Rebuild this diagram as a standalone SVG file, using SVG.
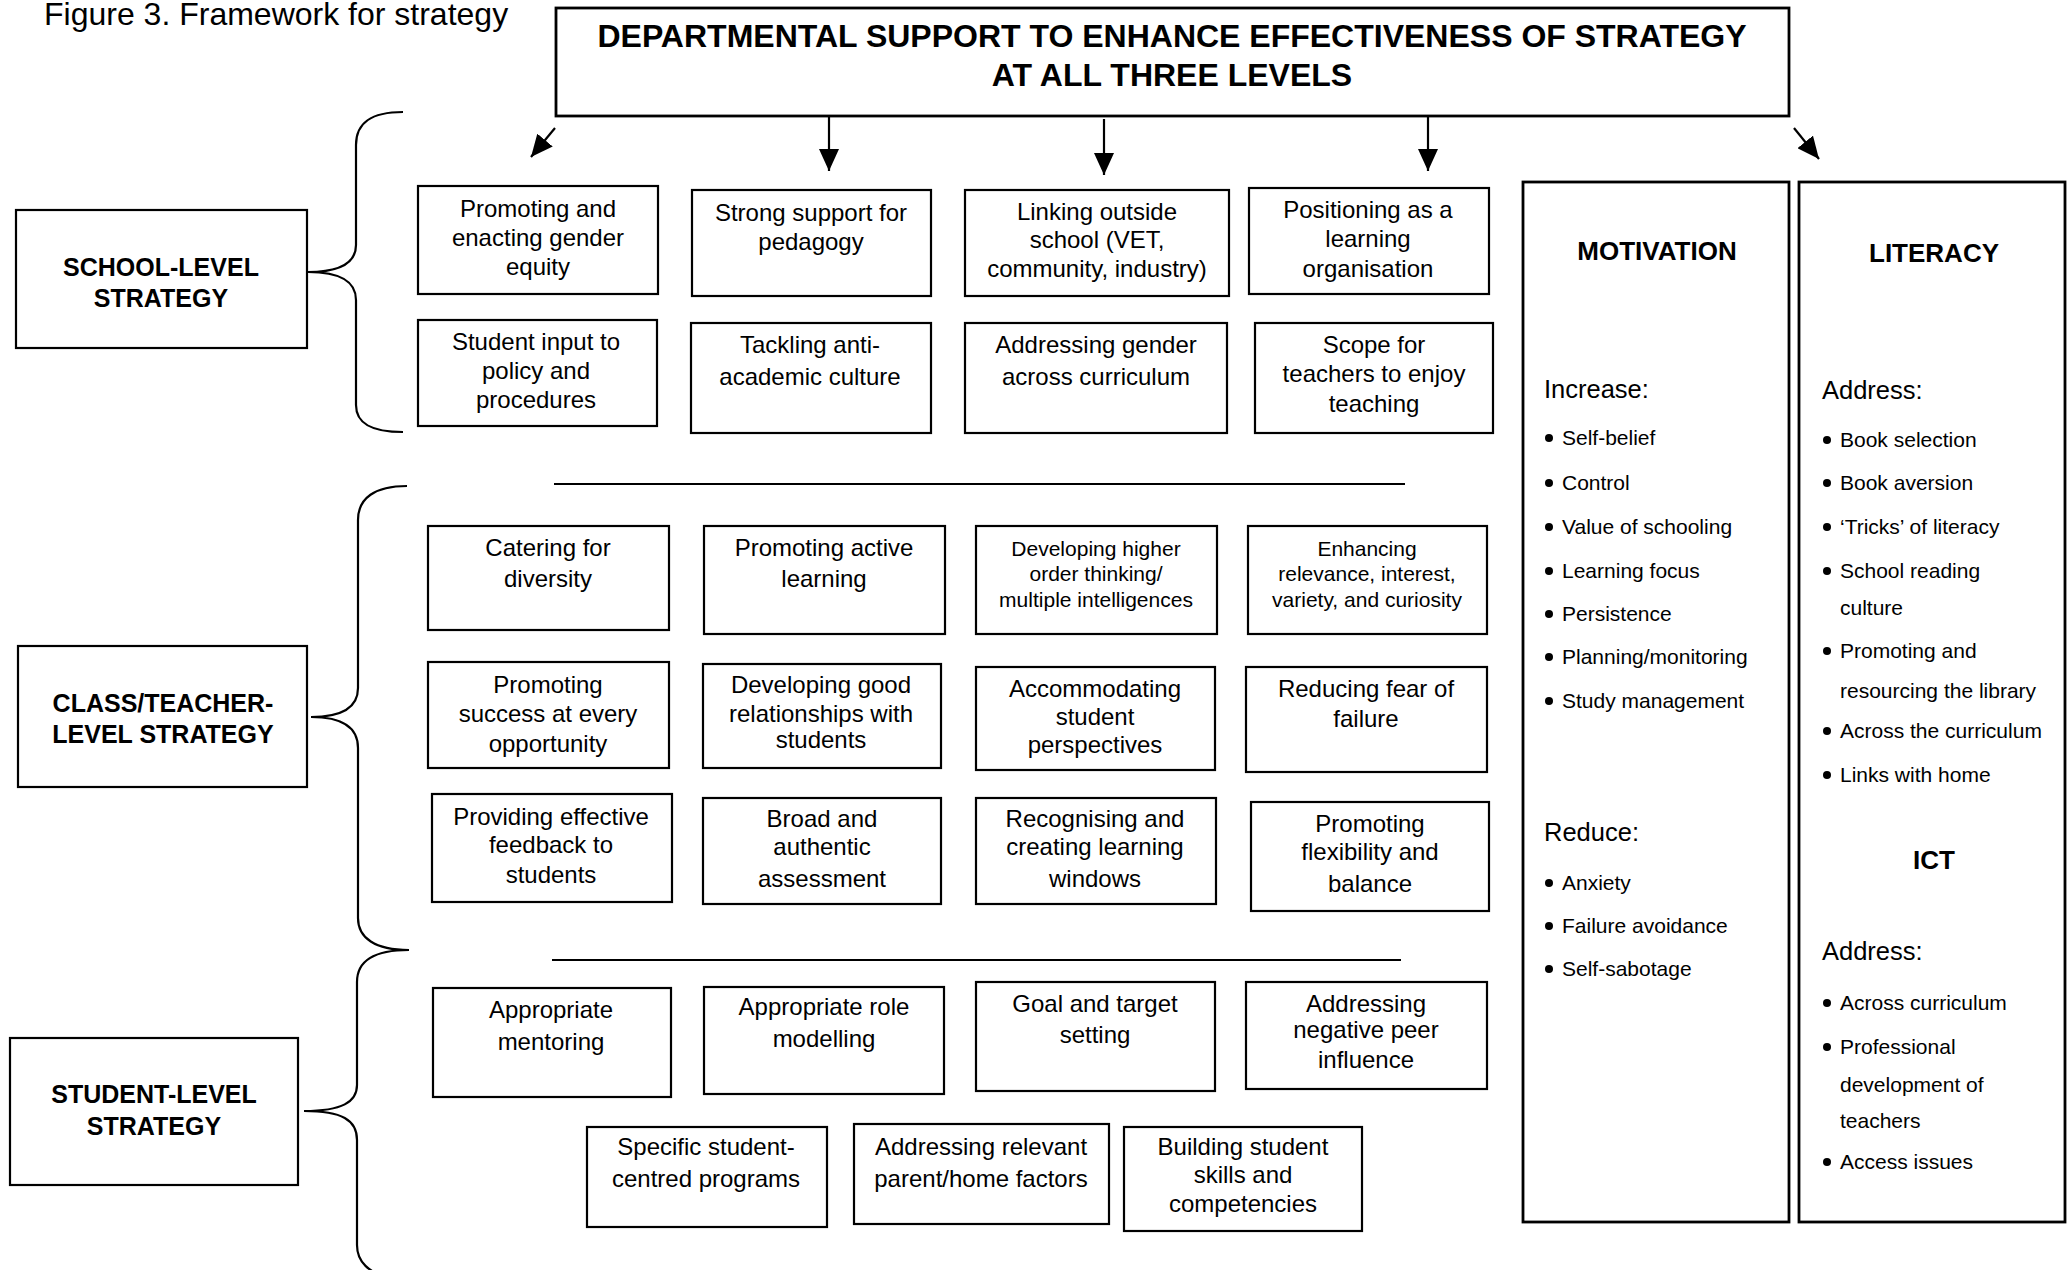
<svg xmlns="http://www.w3.org/2000/svg" width="2069" height="1270" viewBox="0 0 2069 1270">
<style>
.bg{fill:#fff}
.box{fill:#fff;stroke:#000;stroke-width:2.2}
.big{fill:#fff;stroke:#000;stroke-width:2.8}
.ln{fill:none;stroke:#000;stroke-width:2.2}
.br{fill:none;stroke:#000;stroke-width:2.2}
text{font-family:"Liberation Sans",Arial,sans-serif;fill:#000}
.t{font-size:24px;text-anchor:middle}
.s{font-size:21px;text-anchor:middle}
.lbl{font-size:25px;font-weight:bold;text-anchor:middle}
.hd{font-size:32px;font-weight:bold;text-anchor:middle}
.ph{font-size:26px;font-weight:bold;text-anchor:middle}
.sub{font-size:25.5px}
.li{font-size:21px}
.fig{font-size:32px}
.dot{fill:#000}
</style>
<defs>
<marker id="ah" viewBox="0 0 22 20" refX="22" refY="10" markerWidth="22" markerHeight="20" markerUnits="userSpaceOnUse" orient="auto">
<path d="M0,0 L22,10 L0,20 z" fill="#000"/>
</marker>
</defs>
<rect class="bg" x="0" y="0" width="2069" height="1270"/>
<text class="fig" x="44" y="25">Figure 3. Framework for strategy</text>

<g id="header">
<rect class="big" x="556" y="8" width="1233" height="108"/>
<text class="hd" x="1172" y="47">DEPARTMENTAL SUPPORT TO ENHANCE EFFECTIVENESS OF STRATEGY</text>
<text class="hd" x="1172" y="86">AT ALL THREE LEVELS</text>
</g>

<g id="connectors">
<line class="ln" x1="555" y1="128" x2="531" y2="157" marker-end="url(#ah)"/>
<line class="ln" x1="829" y1="116" x2="829" y2="171" marker-end="url(#ah)"/>
<line class="ln" x1="1104" y1="119" x2="1104" y2="175" marker-end="url(#ah)"/>
<line class="ln" x1="1428" y1="116" x2="1428" y2="171" marker-end="url(#ah)"/>
<line class="ln" x1="1794" y1="128" x2="1819" y2="159" marker-end="url(#ah)"/>
<path class="br" d="M403,112 C372,112 356,122 356,145 L356,245 C356,262 342,272 308,272 C342,272 356,282 356,300 L356,405 C356,424 372,432 403,432"/>
<path class="br" d="M407,486 C375,486 358,498 358,520 L358,688 C358,706 344,717 311,717 C344,717 358,728 358,748 L358,918 C358,938 375,950 409,950"/>
<path class="br" d="M409,950 C375,950 357,960 357,982 L357,1085 C357,1102 342,1111 304,1111 C342,1111 357,1120 357,1140 L357,1245 C357,1262 368,1272 392,1280"/>
<line class="ln" x1="554" y1="484" x2="1405" y2="484"/>
<line class="ln" x1="552" y1="960" x2="1401" y2="960"/>
</g>

<g id="school-level">
<rect class="box" x="16" y="210" width="291" height="138"/>
<text class="lbl" x="161" y="276">SCHOOL-LEVEL</text>
<text class="lbl" x="161" y="307">STRATEGY</text>
</g>
<g id="class-level">
<rect class="box" x="18" y="646" width="289" height="141"/>
<text class="lbl" x="163" y="712">CLASS/TEACHER-</text>
<text class="lbl" x="163" y="743">LEVEL STRATEGY</text>
</g>
<g id="student-level">
<rect class="box" x="10" y="1038" width="288" height="147"/>
<text class="lbl" x="154" y="1103">STUDENT-LEVEL</text>
<text class="lbl" x="154" y="1135">STRATEGY</text>
</g>

<g id="s1"><rect class="box" x="418" y="186" width="240" height="108"/>
<text class="t" x="538" y="217">Promoting and</text><text class="t" x="538" y="246">enacting gender</text><text class="t" x="538" y="275">equity</text></g>
<g id="s2"><rect class="box" x="692" y="190" width="239" height="106"/>
<text class="t" x="811" y="221">Strong support for</text><text class="t" x="811" y="250">pedagogy</text></g>
<g id="s3"><rect class="box" x="965" y="190" width="264" height="106"/>
<text class="t" x="1097" y="220">Linking outside</text><text class="t" x="1097" y="248">school (VET,</text><text class="t" x="1097" y="277">community, industry)</text></g>
<g id="s4"><rect class="box" x="1249" y="188" width="240" height="106"/>
<text class="t" x="1368" y="218">Positioning as a</text><text class="t" x="1368" y="247">learning</text><text class="t" x="1368" y="277">organisation</text></g>
<g id="s5"><rect class="box" x="418" y="320" width="239" height="106"/>
<text class="t" x="536" y="350">Student input to</text><text class="t" x="536" y="379">policy and</text><text class="t" x="536" y="408">procedures</text></g>
<g id="s6"><rect class="box" x="691" y="323" width="240" height="110"/>
<text class="t" x="810" y="353">Tackling anti-</text><text class="t" x="810" y="385">academic culture</text></g>
<g id="s7"><rect class="box" x="965" y="323" width="262" height="110"/>
<text class="t" x="1096" y="353">Addressing gender</text><text class="t" x="1096" y="385">across curriculum</text></g>
<g id="s8"><rect class="box" x="1255" y="323" width="238" height="110"/>
<text class="t" x="1374" y="353">Scope for</text><text class="t" x="1374" y="382">teachers to enjoy</text><text class="t" x="1374" y="412">teaching</text></g>

<g id="c1"><rect class="box" x="428" y="526" width="241" height="104"/>
<text class="t" x="548" y="556">Catering for</text><text class="t" x="548" y="587">diversity</text></g>
<g id="c2"><rect class="box" x="704" y="526" width="241" height="108"/>
<text class="t" x="824" y="556">Promoting active</text><text class="t" x="824" y="587">learning</text></g>
<g id="c3"><rect class="box" x="976" y="526" width="241" height="108"/>
<text class="s" x="1096" y="556">Developing higher</text><text class="s" x="1096" y="581">order thinking/</text><text class="s" x="1096" y="607">multiple intelligences</text></g>
<g id="c4"><rect class="box" x="1248" y="526" width="239" height="108"/>
<text class="s" x="1367" y="556">Enhancing</text><text class="s" x="1367" y="581">relevance, interest,</text><text class="s" x="1367" y="607">variety, and curiosity</text></g>
<g id="c5"><rect class="box" x="428" y="662" width="241" height="106"/>
<text class="t" x="548" y="693">Promoting</text><text class="t" x="548" y="722">success at every</text><text class="t" x="548" y="752">opportunity</text></g>
<g id="c6"><rect class="box" x="703" y="664" width="238" height="104"/>
<text class="t" x="821" y="693">Developing good</text><text class="t" x="821" y="722">relationships with</text><text class="t" x="821" y="748">students</text></g>
<g id="c7"><rect class="box" x="976" y="667" width="239" height="103"/>
<text class="t" x="1095" y="697">Accommodating</text><text class="t" x="1095" y="725">student</text><text class="t" x="1095" y="753">perspectives</text></g>
<g id="c8"><rect class="box" x="1246" y="667" width="241" height="105"/>
<text class="t" x="1366" y="697">Reducing fear of</text><text class="t" x="1366" y="727">failure</text></g>
<g id="c9"><rect class="box" x="432" y="794" width="240" height="108"/>
<text class="t" x="551" y="825">Providing effective</text><text class="t" x="551" y="853">feedback to</text><text class="t" x="551" y="883">students</text></g>
<g id="c10"><rect class="box" x="703" y="798" width="238" height="106"/>
<text class="t" x="822" y="827">Broad and</text><text class="t" x="822" y="855">authentic</text><text class="t" x="822" y="887">assessment</text></g>
<g id="c11"><rect class="box" x="976" y="798" width="240" height="106"/>
<text class="t" x="1095" y="827">Recognising and</text><text class="t" x="1095" y="855">creating learning</text><text class="t" x="1095" y="887">windows</text></g>
<g id="c12"><rect class="box" x="1251" y="802" width="238" height="109"/>
<text class="t" x="1370" y="832">Promoting</text><text class="t" x="1370" y="860">flexibility and</text><text class="t" x="1370" y="892">balance</text></g>

<g id="p1"><rect class="box" x="433" y="988" width="238" height="109"/>
<text class="t" x="551" y="1018">Appropriate</text><text class="t" x="551" y="1050">mentoring</text></g>
<g id="p2"><rect class="box" x="704" y="987" width="240" height="107"/>
<text class="t" x="824" y="1015">Appropriate role</text><text class="t" x="824" y="1047">modelling</text></g>
<g id="p3"><rect class="box" x="976" y="982" width="239" height="109"/>
<text class="t" x="1095" y="1012">Goal and target</text><text class="t" x="1095" y="1043">setting</text></g>
<g id="p4"><rect class="box" x="1246" y="982" width="241" height="107"/>
<text class="t" x="1366" y="1012">Addressing</text><text class="t" x="1366" y="1038">negative peer</text><text class="t" x="1366" y="1068">influence</text></g>
<g id="p5"><rect class="box" x="587" y="1127" width="240" height="100"/>
<text class="t" x="706" y="1155">Specific student-</text><text class="t" x="706" y="1187">centred programs</text></g>
<g id="p6"><rect class="box" x="854" y="1124" width="255" height="100"/>
<text class="t" x="981" y="1155">Addressing relevant</text><text class="t" x="981" y="1187">parent/home factors</text></g>
<g id="p7"><rect class="box" x="1124" y="1127" width="238" height="104"/>
<text class="t" x="1243" y="1155">Building student</text><text class="t" x="1243" y="1183">skills and</text><text class="t" x="1243" y="1212">competencies</text></g>

<g id="motivation">
<rect class="big" x="1523" y="182" width="266" height="1040"/>
<text class="ph" x="1657" y="260">MOTIVATION</text>
<text class="sub" x="1544" y="398">Increase:</text>
<circle class="dot" cx="1549" cy="438" r="4"/><text class="li" x="1562" y="445">Self-belief</text>
<circle class="dot" cx="1549" cy="483" r="4"/><text class="li" x="1562" y="490">Control</text>
<circle class="dot" cx="1549" cy="527" r="4"/><text class="li" x="1562" y="534">Value of schooling</text>
<circle class="dot" cx="1549" cy="571" r="4"/><text class="li" x="1562" y="578">Learning focus</text>
<circle class="dot" cx="1549" cy="614" r="4"/><text class="li" x="1562" y="621">Persistence</text>
<circle class="dot" cx="1549" cy="657" r="4"/><text class="li" x="1562" y="664">Planning/monitoring</text>
<circle class="dot" cx="1549" cy="701" r="4"/><text class="li" x="1562" y="708">Study management</text>
<text class="sub" x="1544" y="841">Reduce:</text>
<circle class="dot" cx="1549" cy="883" r="4"/><text class="li" x="1562" y="890">Anxiety</text>
<circle class="dot" cx="1549" cy="926" r="4"/><text class="li" x="1562" y="933">Failure avoidance</text>
<circle class="dot" cx="1549" cy="969" r="4"/><text class="li" x="1562" y="976">Self-sabotage</text>
</g>

<g id="literacy">
<rect class="big" x="1799" y="182" width="266" height="1040"/>
<text class="ph" x="1934" y="262">LITERACY</text>
<text class="sub" x="1822" y="399">Address:</text>
<circle class="dot" cx="1827" cy="440" r="4"/><text class="li" x="1840" y="447">Book selection</text>
<circle class="dot" cx="1827" cy="483" r="4"/><text class="li" x="1840" y="490">Book aversion</text>
<circle class="dot" cx="1827" cy="527" r="4"/><text class="li" x="1840" y="534">‘Tricks’ of literacy</text>
<circle class="dot" cx="1827" cy="571" r="4"/><text class="li" x="1840" y="578">School reading</text>
<text class="li" x="1840" y="615">culture</text>
<circle class="dot" cx="1827" cy="651" r="4"/><text class="li" x="1840" y="658">Promoting and</text>
<text class="li" x="1840" y="698">resourcing the library</text>
<circle class="dot" cx="1827" cy="731" r="4"/><text class="li" x="1840" y="738">Across the curriculum</text>
<circle class="dot" cx="1827" cy="775" r="4"/><text class="li" x="1840" y="782">Links with home</text>
<text class="ph" x="1934" y="869">ICT</text>
<text class="sub" x="1822" y="960">Address:</text>
<circle class="dot" cx="1827" cy="1003" r="4"/><text class="li" x="1840" y="1010">Across curriculum</text>
<circle class="dot" cx="1827" cy="1047" r="4"/><text class="li" x="1840" y="1054">Professional</text>
<text class="li" x="1840" y="1092">development of</text>
<text class="li" x="1840" y="1128">teachers</text>
<circle class="dot" cx="1827" cy="1162" r="4"/><text class="li" x="1840" y="1169">Access issues</text>
</g>
</svg>
